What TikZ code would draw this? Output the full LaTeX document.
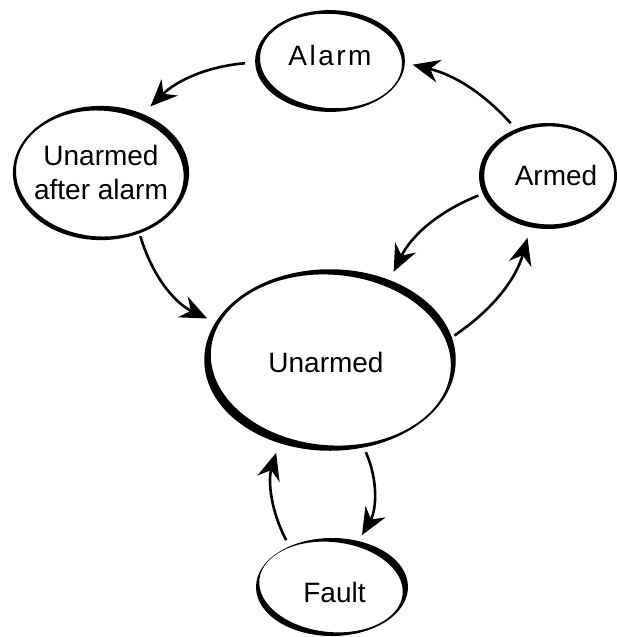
\documentclass[tikz,border=0pt]{standalone}
\usepackage{fontspec}
\setmainfont{Liberation Sans}
\newfontfamily\spacedfont[LetterSpace=9]{Liberation Sans}
\usetikzlibrary{shapes.geometric,arrows.meta}
% outline with varying stroke: name, rx, ry, base thickness, dx, dy, rotation of inner ellipse
\newcommand{\stateoutline}[7]{%
  \fill[even odd rule]
    (#1.center) ellipse [x radius={(#2+#4/2)*1pt}, y radius={(#3+#4/2)*1pt}]
    ([shift={(#5pt,#6pt)}]#1.center) ellipse [x radius={(#2-#4/2)*1pt}, y radius={(#3-#4/2)*1pt}, rotate=#7];}
\begin{document}
\begin{tikzpicture}[x=1pt,y=-1pt,
  state/.style={ellipse, draw=none, inner sep=0pt, outer sep=0pt},
  txt/.style={font=\fontsize{28}{34}\selectfont, align=center},
  conn/.style={line width=2.6pt, -{Stealth[length=27pt,width=23pt,inset=9pt]}},
]
\useasboundingbox (0,0) rectangle (617,637);

\node[state, minimum width=146pt, minimum height=98pt,
      label={[txt, yshift=6pt]center:{\spacedfont Alarm}}] (alarm) at (330,61) {};
\node[state, minimum width=172pt, minimum height=130pt,
      label={[txt, yshift=1pt]center:{Unarmed\\after alarm}}] (uaa) at (101,173) {};
\node[state, minimum width=134pt, minimum height=102pt,
      label={[txt, xshift=8pt, yshift=1pt]center:Armed}] (armed) at (548,176) {};
\node[state, minimum width=246pt, minimum height=176pt,
      label={[txt, xshift=-4pt, yshift=-2pt]center:Unarmed}] (unarmed) at (330,360) {};
\node[state, minimum width=148pt, minimum height=94pt,
      label={[txt, xshift=2.5pt, yshift=-5.5pt]center:Fault}] (fault) at (332,587) {};

\stateoutline{alarm}{73}{49}{3.8}{1}{0}{-4}
\stateoutline{uaa}{86}{65}{4.2}{-1.2}{-0.5}{-4}
\stateoutline{armed}{67}{51}{4}{1.2}{0.6}{0}
\stateoutline{unarmed}{123}{88}{5.5}{0.8}{0}{-5}
\stateoutline{fault}{74}{47}{4}{-1}{0}{-6}

\draw[conn, shorten <=12pt, shorten >=13pt] (alarm.181) to[bend right=20] (uaa.55);
\draw[conn, shorten <=10pt, shorten >=10pt] (armed.124) to[bend right=17] (alarm.359);
\draw[conn, shorten <=7pt, shorten >=12pt] (armed.195) to[bend right=21] (unarmed.53);
\draw[conn, shorten <=6pt, shorten >=13pt] (unarmed.10) to[bend right=20] (armed.251);
\draw[conn, shorten <=5pt, shorten >=12pt] (uaa.303) to[bend right=24] (unarmed.162);
\draw[conn, shorten <=8pt, shorten >=9pt] (unarmed.291) to[bend left=27] (fault.60);
\draw[conn, shorten <=9pt, shorten >=13pt] (fault.137) to[bend left=22] (unarmed.238);
\end{tikzpicture}
\end{document}
